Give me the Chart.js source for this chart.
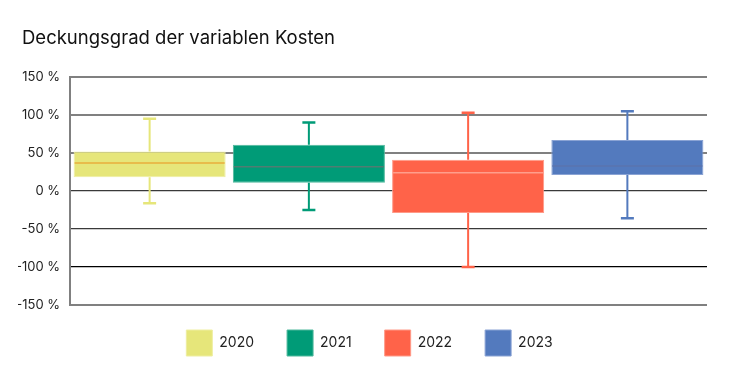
<!DOCTYPE html>
<html>
<head>
<meta charset="utf-8">
<script src="https://cdn.jsdelivr.net/npm/chart.js@4"></script>
<style>
  html, body { margin: 0; padding: 0; background: #ffffff; }
  #wrap { width: 731px; height: 380px; }
</style>
</head>
<body>
<div id="wrap"><canvas id="c" width="731" height="380"></canvas></div>
<script>
// ---- data ----
const years = ['2020', '2021', '2022', '2023'];
const whiskerMin = [-16, -25, -100, -36];
const q1 = [18, 11, -29, 21];
const median = [37, 32, 24, 33];
const q3 = [52, 61, 41, 67];
const whiskerMax = [95, 90, 103, 105];
const yTicks = [150, 100, 50, 0, -50, -100, -150];

// ---- styles ----
const boxColors = ['#e6e67a', '#009b77', '#ff6349', '#537abe'];
const boxBorders = ['#eeeea0', '#4fb89c', '#ff9a88', '#8aa3d4'];
const medianColors = ['#e8ae3c', '#4f7d72', '#ff9e8c', '#5a74ae'];

const datasets = years.map((y, i) => ({
  label: y,
  data: years.map((_, j) => (j === i ? [q1[i], q3[i]] : null)),
  backgroundColor: boxColors[i],
  borderColor: boxBorders[i],
  borderWidth: 1,
  borderSkipped: false,
  grouped: false,
  barPercentage: 0.955,
  categoryPercentage: 1.0
}));

const boxPlotPlugin = {
  id: 'boxPlotExtras',
  afterDatasetsDraw(chart) {
    const ctx = chart.ctx;
    const ys = chart.scales.y;
    years.forEach((_, i) => {
      const meta = chart.getDatasetMeta(i);
      const bar = meta.data[i];
      if (!bar) return;
      const x = bar.x;
      const half = bar.width / 2;
      const pMin = ys.getPixelForValue(whiskerMin[i]);
      const pQ1 = ys.getPixelForValue(q1[i]);
      const pMed = ys.getPixelForValue(median[i]);
      const pQ3 = ys.getPixelForValue(q3[i]);
      const pMax = ys.getPixelForValue(whiskerMax[i]);
      ctx.save();
      ctx.strokeStyle = boxColors[i];
      ctx.lineWidth = 2;
      ctx.beginPath();
      ctx.moveTo(x, pQ3); ctx.lineTo(x, pMax);
      ctx.moveTo(x, pQ1); ctx.lineTo(x, pMin);
      ctx.stroke();
      ctx.lineWidth = 2.5;
      ctx.beginPath();
      ctx.moveTo(x - 6.5, pMax); ctx.lineTo(x + 6.5, pMax);
      ctx.moveTo(x - 6.5, pMin); ctx.lineTo(x + 6.5, pMin);
      ctx.stroke();
      ctx.strokeStyle = medianColors[i];
      ctx.lineWidth = 1.5;
      ctx.beginPath();
      ctx.moveTo(x - half + 1, pMed); ctx.lineTo(x + half - 1, pMed);
      ctx.stroke();
      ctx.restore();
    });
  }
};

// fine layout adjustments of title and legend blocks
const layoutTweak = {
  id: 'layoutTweak',
  afterLayout(chart) {
    const t = chart.titleBlock;
    if (t) { t.left += 4; t.right += 4; }
    const lg = chart.legend;
    if (lg) {
      const pad = lg.options.labels.padding;
      const dy = (chart.chartArea.bottom + 25 - pad) - lg.top;
      lg.top += dy; lg.bottom += dy;
      lg.left += 7; lg.right += 7;
    }
  }
};

const FONT = 'Inter, "Noto Sans", sans-serif';

new Chart(document.getElementById('c'), {
  type: 'bar',
  data: { labels: years, datasets },
  options: {
    responsive: false,
    animation: false,
    devicePixelRatio: 1,
    layout: { padding: { top: 0, left: 18, right: 24, bottom: 6 } },
    plugins: {
      title: {
        display: true,
        text: 'Deckungsgrad der variablen Kosten',
        align: 'start',
        color: '#111',
        font: { family: FONT, size: 18.5, weight: 'normal' },
        padding: { top: 27.4, bottom: 27.4 }
      },
      legend: {
        position: 'bottom',
        labels: {
          boxWidth: 26,
          boxHeight: 26,
          padding: 33,
          color: '#222',
          font: { family: FONT, size: 14 }
        }
      },
      tooltip: { enabled: false }
    },
    scales: {
      x: {
        type: 'category',
        display: false
      },
      y: {
        min: -150,
        max: 150,
        afterBuildTicks(scale) { scale.ticks = yTicks.map(v => ({ value: v })); },
        afterFit(scale) { scale.width = 52; },
        ticks: {
          padding: 10,
          color: '#222',
          font: { family: FONT, size: 13 },
          callback: v => v + ' %'
        },
        grid: {
          drawTicks: false,
          color: c => {
            const v = c.tick ? c.tick.value : 0;
            if (v >= 50 || v === -150) return '#808080';
            if (v === -100) return '#000000';
            return '#3a3a3a';
          },
          lineWidth: c => {
            const v = c.tick ? c.tick.value : 0;
            if (v >= 50 || v === -150) return 2;
            return 1.3;
          }
        },
        border: { display: true, color: '#808080', width: 2 }
      }
    }
  },
  plugins: [boxPlotPlugin, layoutTweak]
});
</script>
</body>
</html>
